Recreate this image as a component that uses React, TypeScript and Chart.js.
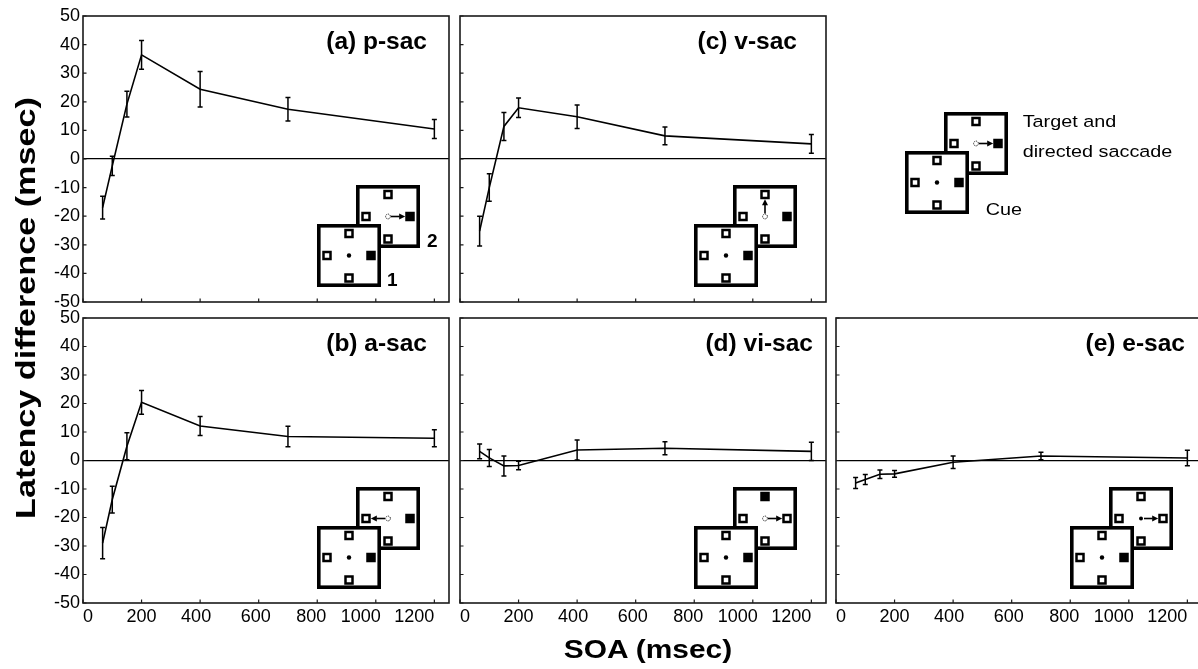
import React, { useEffect, useRef } from "react";
import { Chart, registerables } from "chart.js";
Chart.register(...registerables);

// ---------- data ----------
const soa = [67, 100, 150, 200, 400, 700, 1200];
const pSac = [-17.0, -2.4, 19.2, 36.4, 24.4, 17.4, 10.5];
const pSacErr = [4.0, 3.4, 4.5, 5.0, 6.2, 4.1, 3.3];
const aSac = [-29.0, -13.7, 5.0, 20.4, 12.1, 8.4, 7.8];
const aSacErr = [5.5, 4.7, 4.7, 4.2, 3.3, 3.6, 3.0];
const vSac = [-25.2, -10.0, 11.4, 17.9, 14.8, 8.1, 5.3];
const vSacErr = [5.2, 4.8, 4.9, 3.4, 4.1, 3.1, 3.3];
const viSac = [3.2, 0.9, -1.9, -1.75, 3.7, 4.3, 3.2];
const viSacErr = [2.6, 3.0, 3.5, 1.5, 3.5, 2.3, 3.2];
const eSac = [-7.9, -6.7, -4.8, -4.7, -0.6, 1.6, 0.9];
const eSacErr = [1.9, 1.75, 1.5, 1.2, 2.2, 1.3, 2.7];

const xTickValues = [0, 200, 400, 600, 800, 1000, 1200];
const yTickValues = [-50, -40, -30, -20, -10, 0, 10, 20, 30, 40, 50];
const xMin = 0;
const xMax = 1250;
const yMin = -50;
const yMax = 50;

const yTitle = "Latency difference (msec)";
const xTitle = "SOA (msec)";

// ---------- layout / style ----------
const FONT = "'Liberation Sans', Arial, Helvetica, sans-serif";
const M_LEFT = 60;
const M_TOP = 14;
const M_RIGHT = 8;
const M_BOTTOM = 32;
// horizontal nudges (px) of x tick labels, as laid out in the original figure
const xLabelNudge: Record<number, number> = { 400: -4, 600: -3, 800: -6, 1000: -15 };

type Pos = "top" | "bottom" | "left" | "right";

interface PanelDef {
  title: string;
  values: number[];
  errors: number[];
  L: number;
  T: number;
  R: number;
  B: number;
  yLabels: boolean;
  xLabels: boolean;
  titleRight: number;
  backFilled: Pos | null;
  arrowTo: Pos;
  startSolid: boolean;
  numbers: boolean;
}

const panels: PanelDef[] = [
  { title: "(a) p-sac", values: pSac, errors: pSacErr, L: 83, T: 16, R: 449, B: 302, yLabels: true, xLabels: false, titleRight: 22, backFilled: "right", arrowTo: "right", startSolid: false, numbers: true },
  { title: "(c) v-sac", values: vSac, errors: vSacErr, L: 460, T: 16, R: 826, B: 302, yLabels: false, xLabels: false, titleRight: 29, backFilled: "right", arrowTo: "top", startSolid: false, numbers: false },
  { title: "(b) a-sac", values: aSac, errors: aSacErr, L: 83, T: 318, R: 449, B: 603, yLabels: true, xLabels: true, titleRight: 22, backFilled: "right", arrowTo: "left", startSolid: false, numbers: false },
  { title: "(d) vi-sac", values: viSac, errors: viSacErr, L: 460, T: 318, R: 826, B: 603, yLabels: false, xLabels: true, titleRight: 13, backFilled: "top", arrowTo: "right", startSolid: false, numbers: false },
  { title: "(e) e-sac", values: eSac, errors: eSacErr, L: 836, T: 318, R: 1202, B: 603, yLabels: false, xLabels: true, titleRight: 17, backFilled: null, arrowTo: "right", startSolid: true, numbers: false },
];

// ---------- plugins ----------
const labelNudgePlugin = {
  id: "labelNudge",
  beforeDraw(chart: any) {
    const xs = chart.scales.x;
    if (!xs || !xs.options.ticks.display) return;
    const items = xs.getLabelItems();
    items.forEach((it: any, i: number) => {
      const t = xs.ticks[i];
      if (!t || it._nudged) return;
      const n = xLabelNudge[t.value] || 0;
      it.options.translation[0] += n;
      it._nudged = true;
    });
  },
};

const framePlugin = {
  id: "frame",
  afterDraw(chart: any) {
    const { ctx, chartArea: a, scales } = chart;
    const xs = scales.x;
    const ys = scales.y;
    ctx.save();
    ctx.strokeStyle = "#1a1a1a";
    ctx.lineWidth = 1.6;
    ctx.strokeRect(a.left, a.top, a.right - a.left, a.bottom - a.top);
    ctx.lineWidth = 1.2;
    ctx.beginPath();
    xs.ticks.forEach((t: any) => {
      const px = xs.getPixelForValue(t.value);
      ctx.moveTo(px, a.bottom);
      ctx.lineTo(px, a.bottom - 3.5);
    });
    ys.ticks.forEach((t: any) => {
      const py = ys.getPixelForValue(t.value);
      ctx.moveTo(a.left, py);
      ctx.lineTo(a.left + 3.5, py);
    });
    ctx.stroke();
    ctx.restore();
  },
};

const errorBarPlugin = {
  id: "errorBars",
  afterDatasetsDraw(chart: any) {
    const { ctx, scales } = chart;
    const xs = scales.x;
    const ys = scales.y;
    chart.data.datasets.forEach((ds: any) => {
      const errs: number[] = ds.errors;
      if (!errs) return;
      ctx.save();
      ctx.strokeStyle = "#000";
      ctx.lineWidth = 1.5;
      ctx.beginPath();
      ds.data.forEach((pt: any, i: number) => {
        const px = xs.getPixelForValue(pt.x);
        const top = ys.getPixelForValue(pt.y + errs[i]);
        const bot = ys.getPixelForValue(pt.y - errs[i]);
        ctx.moveTo(px, top);
        ctx.lineTo(px, bot);
        ctx.moveTo(px - 2.5, top);
        ctx.lineTo(px + 2.5, top);
        ctx.moveTo(px - 2.5, bot);
        ctx.lineTo(px + 2.5, bot);
      });
      ctx.stroke();
      ctx.restore();
    });
  },
};

// ---------- chart panel ----------
function Panel({ p }: { p: PanelDef }) {
  const ref = useRef<HTMLCanvasElement>(null);
  const w = p.R - p.L + M_LEFT + M_RIGHT;
  const h = p.B - p.T + M_TOP + M_BOTTOM;
  useEffect(() => {
    const tickFont = { family: FONT, size: 18 };
    const chart = new Chart(ref.current as HTMLCanvasElement, {
      type: "line",
      data: {
        datasets: [
          {
            data: soa.map((x, i) => ({ x, y: p.values[i] })),
            borderColor: "#000",
            borderWidth: 1.6,
            pointRadius: 0,
            tension: 0,
            fill: false,
            errors: p.errors,
          } as any,
        ],
      },
      options: {
        animation: false,
        responsive: false,
        devicePixelRatio: 1,
        events: [],
        layout: { padding: { left: 0, top: M_TOP, right: M_RIGHT, bottom: 0 } },
        plugins: { legend: { display: false }, tooltip: { enabled: false }, title: { display: false } },
        scales: {
          x: {
            type: "linear",
            min: xMin,
            max: xMax,
            afterBuildTicks: (s: any) => {
              s.ticks = xTickValues.map((v) => ({ value: v }));
            },
            afterFit: (s: any) => {
              s.height = M_BOTTOM;
            },
            grid: { display: false, drawTicks: false },
            border: { display: false },
            ticks: {
              display: p.xLabels,
              align: "inner",
              padding: 3,
              font: tickFont,
              color: "#000",
              maxRotation: 0,
              autoSkip: false,
              callback: (v: any) => String(v),
            },
          },
          y: {
            type: "linear",
            min: yMin,
            max: yMax,
            afterBuildTicks: (s: any) => {
              s.ticks = yTickValues.map((v) => ({ value: v }));
            },
            afterFit: (s: any) => {
              s.width = M_LEFT;
            },
            grid: {
              drawTicks: false,
              lineWidth: 1.2,
              color: (c: any) => (c.tick && c.tick.value === 0 ? "#000" : "rgba(0,0,0,0)"),
            },
            border: { display: false },
            ticks: {
              display: p.yLabels,
              padding: 3,
              font: tickFont,
              color: "#000",
              autoSkip: false,
              callback: (v: any) => String(v),
            },
          },
        },
      } as any,
      plugins: [labelNudgePlugin, framePlugin, errorBarPlugin],
    });
    return () => chart.destroy();
  }, []);
  return (
    <canvas
      ref={ref}
      width={w}
      height={h}
      style={{ position: "absolute", left: p.L - M_LEFT, top: p.T - M_TOP, width: w, height: h }}
    />
  );
}

// ---------- schematic insets ----------
const BOX_W = 64;
const BOX_H = 63;
const BW = 3.6;
const BACK_DX = 39;
const BACK_DY = -39;
const SQ: Record<Pos, [number, number]> = {
  top: [32, 9.5],
  bottom: [32, 54],
  left: [10, 31.5],
  right: [54, 31.5],
};
const CENTER: [number, number] = [32, 31.5];

function SmallSquare({ cx, cy, filled }: { cx: number; cy: number; filled: boolean }) {
  const s = 9.5;
  const sw = 2.5;
  return (
    <rect
      x={cx - s / 2 + sw / 2}
      y={cy - s / 2 + sw / 2}
      width={s - sw}
      height={s - sw}
      fill={filled ? "#000" : "#fff"}
      stroke="#000"
      strokeWidth={sw}
    />
  );
}

function BoxFrame({ x, y }: { x: number; y: number }) {
  return (
    <rect x={x + BW / 2} y={y + BW / 2} width={BOX_W - BW} height={BOX_H - BW} fill="#fff" stroke="#000" strokeWidth={BW} />
  );
}

function Inset({ x, y, backFilled, arrowTo, startSolid }: { x: number; y: number; backFilled: Pos | null; arrowTo: Pos; startSolid: boolean }) {
  const bx = x + BACK_DX;
  const by = y + BACK_DY;
  const s = CENTER;
  const t = SQ[arrowTo];
  const dx = t[0] - s[0];
  const dy = t[1] - s[1];
  const len = Math.hypot(dx, dy);
  const ux = dx / len;
  const uy = dy / len;
  const tipX = bx + t[0] - ux * 4.8;
  const tipY = by + t[1] - uy * 4.8;
  const baseX = tipX - ux * 6;
  const baseY = tipY - uy * 6;
  const nx = -uy;
  const ny = ux;
  const startX = bx + s[0];
  const startY = by + s[1];
  const positions: Pos[] = ["top", "bottom", "left", "right"];
  return (
    <g>
      <BoxFrame x={bx} y={by} />
      {positions.map((k) => (
        <SmallSquare key={"b" + k} cx={bx + SQ[k][0]} cy={by + SQ[k][1]} filled={backFilled === k} />
      ))}
      <line x1={startX + ux * 3} y1={startY + uy * 3} x2={baseX + ux * 0.5} y2={baseY + uy * 0.5} stroke="#000" strokeWidth={1.6} />
      <polygon
        points={`${tipX},${tipY} ${baseX + nx * 3},${baseY + ny * 3} ${baseX - nx * 3},${baseY - ny * 3}`}
        fill="#000"
      />
      {startSolid ? (
        <circle cx={startX} cy={startY} r={2} fill="#000" />
      ) : (
        <circle cx={startX} cy={startY} r={2.4} fill="#fff" stroke="#000" strokeWidth={1} strokeDasharray="1 1" />
      )}
      <BoxFrame x={x} y={y} />
      {positions.map((k) => (
        <SmallSquare key={"f" + k} cx={x + SQ[k][0]} cy={y + SQ[k][1]} filled={k === "right"} />
      ))}
      <circle cx={x + CENTER[0]} cy={y + CENTER[1]} r={2.2} fill="#000" />
    </g>
  );
}

// ---------- app ----------
export default function App() {
  const insetDX = 234;
  const insetDY = 208;
  return (
    <div
      style={{
        position: "fixed",
        left: 0,
        top: 0,
        width: 1198,
        height: 669,
        overflow: "hidden",
        background: "#fff",
      }}
    >
      {panels.map((p) => (
        <Panel key={p.title} p={p} />
      ))}
      <svg
        width={1198}
        height={669}
        style={{ position: "absolute", left: 0, top: 0, pointerEvents: "none" }}
        fontFamily={FONT}
      >
        {panels.map((p) => (
          <g key={"o" + p.title}>
            <text x={p.R - p.titleRight} y={p.T + 33} textAnchor="end" fontWeight="bold" fontSize={24.5} fill="#000">
              {p.title}
            </text>
            <Inset x={p.L + insetDX} y={p.T + insetDY} backFilled={p.backFilled} arrowTo={p.arrowTo} startSolid={p.startSolid} />
            {p.numbers && (
              <>
                <text x={p.L + insetDX + 70} y={p.T + insetDY + 62} fontWeight="bold" fontSize={19} fill="#000">1</text>
                <text x={p.L + insetDX + 110} y={p.T + insetDY + 23} fontWeight="bold" fontSize={19} fill="#000">2</text>
              </>
            )}
          </g>
        ))}
        {/* legend schematic */}
        <Inset x={905} y={151} backFilled="right" arrowTo="right" startSolid={false} />
        <text transform="translate(1022.7,127) scale(1.2,1)" fontSize={16.5} fill="#000">Target and</text>
        <text transform="translate(1022.7,157) scale(1.2,1)" fontSize={16.5} fill="#000">directed saccade</text>
        <text transform="translate(985.7,215) scale(1.2,1)" fontSize={16.5} fill="#000">Cue</text>
        {/* axis titles */}
        <text transform="translate(35,308) rotate(-90) scale(1.2,1)" textAnchor="middle" fontWeight="bold" fontSize={28.5} fill="#000">
          {yTitle}
        </text>
        <text transform="translate(648,658) scale(1.15,1)" textAnchor="middle" fontWeight="bold" fontSize={26} fill="#000">
          {xTitle}
        </text>
      </svg>
    </div>
  );
}
